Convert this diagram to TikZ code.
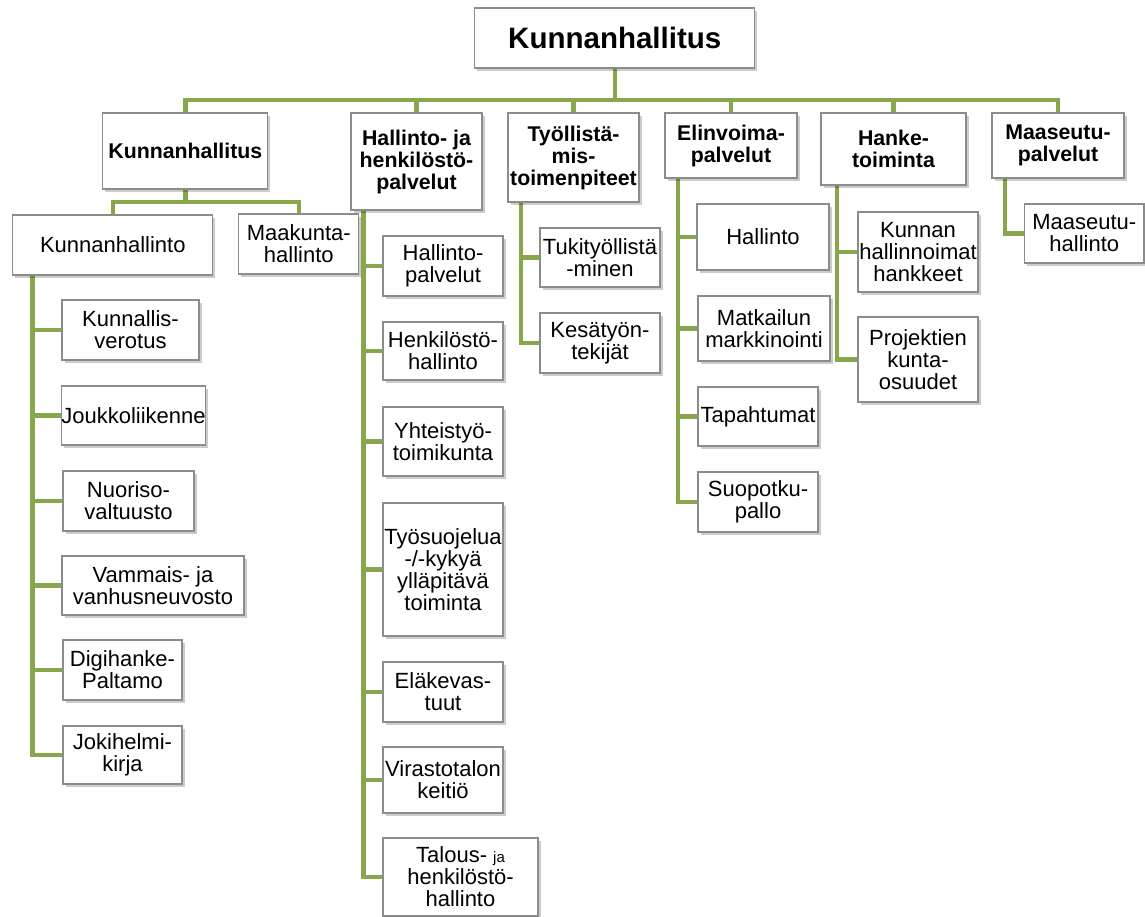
\documentclass[tikz,border=0pt]{standalone}
\usepackage{fontspec}
\setmainfont{Liberation Sans}
\usetikzlibrary{shadows}
\definecolor{lgreen}{RGB}{136,166,76}
\definecolor{bordergray}{RGB}{140,140,140}
\pgfdeclarelayer{bg}
\pgfsetlayers{bg,main}
\begin{document}
\begin{tikzpicture}[x=1pt,y=-1pt,
  box/.style={draw=bordergray, line width=1.1pt, fill=white, align=center, inner sep=0pt,
    font=\fontsize{22}{22}\selectfont,
    drop shadow={shadow xshift=2.5pt, shadow yshift=-3pt, fill=black, opacity=0.2}},
  head/.style={box, font=\fontsize{21.3}{22}\selectfont\bfseries},
  wh/.style 2 args={minimum width=#1pt, minimum height=#2pt},
  conn/.style={draw=lgreen, line width=4.5pt, line join=miter}]
\useasboundingbox (0,0) rectangle (1145,916);

% top
\node[box, wh={280}{60}, font=\fontsize{29.5}{32}\selectfont\bfseries] (top) at (614.75,38) {Kunnanhallitus};

% level 1
\node[head, wh={165}{76}] (c1) at (185.3,151) {Kunnanhallitus};
\node[head, wh={131}{97}] (c2) at (416.5,161.5) {Hallinto- ja\\henkilöstö-\\palvelut};
\node[head, wh={131}{89}] (c3) at (573.5,157.5) {Työllistä-\\mis-\\toimenpiteet};
\node[head, wh={132}{65}] (c4) at (731,145.5) {Elinvoima-\\palvelut};
\node[head, wh={145}{72}] (c5) at (893.5,149) {Hanke-\\toiminta};
\node[head, wh={132}{65}] (c6) at (1058,145.5) {Maaseutu-\\palvelut};

% column 1
\node[box, wh={200}{60}] (kh) at (112.8,245) {Kunnanhallinto};
\node[box, wh={120}{60}] (mk) at (298.8,244) {Maakunta-\\hallinto};
\node[box, wh={137}{60}] (kv) at (130.5,330) {Kunnallis-\\verotus};
\node[box, wh={143}{59}] (jl) at (133.5,415.5) {Joukkoliikenne};
\node[box, wh={131}{60}] (nv) at (128.5,501) {Nuoriso-\\valtuusto};
\node[box, wh={182}{59}] (vv) at (153,585.5) {Vammais- ja\\vanhusneuvosto};
\node[box, wh={119}{60}] (dp) at (122.5,670) {Digihanke-\\Paltamo};
\node[box, wh={119}{58}] (jk) at (122.5,755) {Jokihelmi-\\kirja};

% column 2
\node[box, wh={120}{60}] (hp) at (443,266) {Hallinto-\\palvelut};
\node[box, wh={120}{58}] (hh) at (443,351) {Henkilöstö-\\hallinto};
\node[box, wh={120}{69}] (yt) at (443,441.5) {Yhteistyö-\\toimikunta};
\node[box, wh={120}{133}] (ts) at (443,569.5) {Työsuojelua\\-/-kykyä\\ylläpitävä\\toiminta};
\node[box, wh={120}{60}] (ev) at (443,692) {Eläkevas-\\tuut};
\node[box, wh={120}{66}] (vk) at (443,780) {Virastotalon\\keitiö};
\node[box, wh={155}{78}] (th) at (460.5,877) {Talous- {\fontsize{15}{16}\selectfont ja}\\henkilöstö-\\hallinto};

% column 3
\node[box, wh={120}{59}] (tm) at (600,257.5) {Tukityöllistä\\-minen};
\node[box, wh={120}{60}] (kt) at (600,343) {Kesätyön-\\tekijät};

% column 4
\node[box, wh={132}{66}] (eh) at (763,237) {Hallinto};
\node[box, wh={132}{65}] (mm) at (764,328.5) {Matkailun\\markkinointi};
\node[box, wh={120}{59}] (tp) at (758,416.5) {Tapahtumat};
\node[box, wh={120}{60}] (sp) at (758,502) {Suopotku-\\pallo};

% column 5
\node[box, wh={120}{80}] (kh2) at (918,252) {Kunnan\\hallinnoimat\\hankkeet};
\node[box, wh={120}{85}] (pk) at (918,359.5) {Projektien\\kunta-\\osuudet};

% column 6
\node[box, wh={119.5}{59}] (mh) at (1084.25,233.5) {Maaseutu-\\hallinto};

% connector anchor points
\coordinate (bus) at (614.75,100);
\coordinate (c1b) at (185.3,202);
\coordinate (khv) at (32.5,275);
\coordinate (c2v) at (363.6,210);
\coordinate (c3v) at (521,202);
\coordinate (c4v) at (678,178);
\coordinate (c5v) at (837,185);
\coordinate (c6v) at (1005,178);

\begin{pgfonlayer}{bg}
\draw[conn] (top.south) -- (bus);
\foreach \c in {c1,c2,c3,c4,c5,c6} \draw[conn] (\c.north) |- (bus);
\draw[conn] (c1.south) -- (c1b);
\draw[conn] (kh.north) |- (c1b);
\draw[conn] (mk.north) |- (c1b);
\foreach \c in {kv,jl,nv,vv,dp,jk} \draw[conn] (khv) |- (\c.west);
\foreach \c in {hp,hh,yt,ts,ev,vk,th} \draw[conn] (c2v) |- (\c.west);
\foreach \c in {tm,kt} \draw[conn] (c3v) |- (\c.west);
\foreach \c in {eh,mm,tp,sp} \draw[conn] (c4v) |- (\c.west);
\foreach \c in {kh2,pk} \draw[conn] (c5v) |- (\c.west);
\draw[conn] (c6v) |- (mh.west);
\end{pgfonlayer}
\end{tikzpicture}
\end{document}
